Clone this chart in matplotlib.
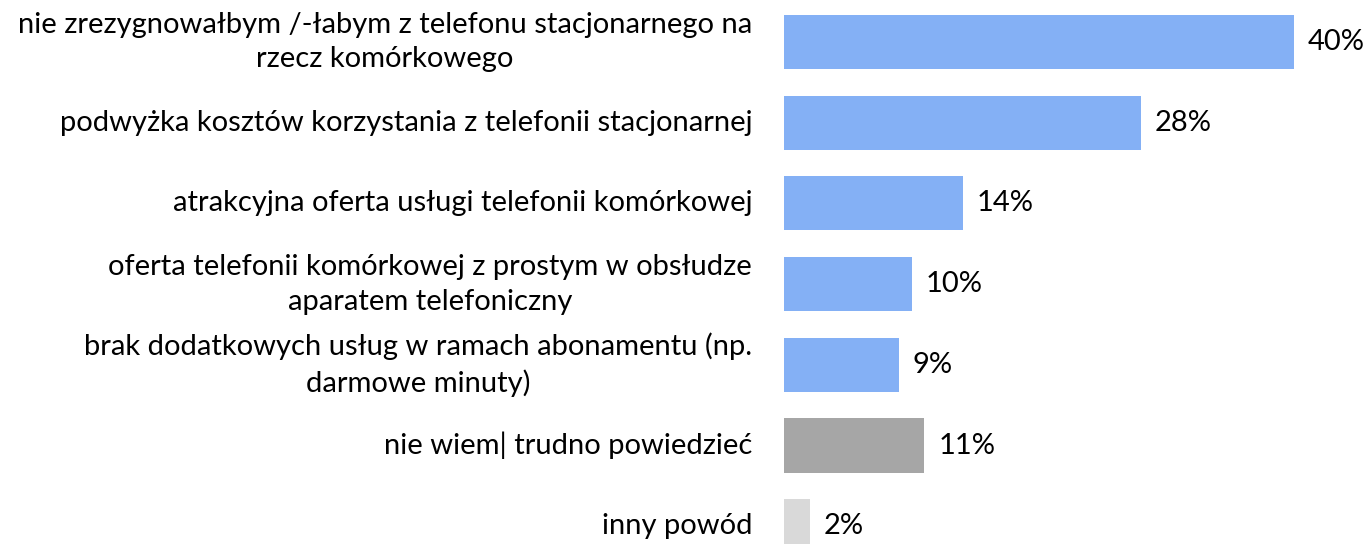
import matplotlib
matplotlib.use('Agg')
import matplotlib.pyplot as plt

# data
labels = [
    'nie zrezygnowałbym /-łabym z telefonu stacjonarnego na\nrzecz komórkowego',
    'podwyżka kosztów korzystania z telefonii stacjonarnej',
    'atrakcyjna oferta usługi telefonii komórkowej',
    'oferta telefonii komórkowej z prostym w obsłudze\naparatem telefoniczny',
    'brak dodatkowych usług w ramach abonamentu (np.\ndarmowe minuty)',
    'nie wiem| trudno powiedzieć',
    'inny powód',
]
values = [40, 28, 14, 10, 9, 11, 2]
colors = ['#84B0F5'] * 5 + ['#A6A6A6', '#D9D9D9']

plt.rcParams['font.family'] = ['Lato', 'DejaVu Sans']
fs = 21

fig = plt.figure(figsize=(13.67, 5.44), dpi=100)
ax = fig.add_axes([784 / 1367, 0, 1 - 784 / 1367, 1])

pos = list(range(len(values)))
ax.barh(pos, values, height=0.67, color=colors)
ax.set_xlim(0, 583 / 12.75)
ax.set_ylim(6.22, -0.52)

for p, v in zip(pos, values):
    ax.annotate(f'{v}%', (v, p), xytext=(10, 0), textcoords='offset points',
                ha='left', va='center', fontsize=fs, color='#000000')

for p, lab in zip(pos, labels):
    ax.annotate(lab, (0, p), xytext=(-23, 0), textcoords='offset points',
                ha='right', va='center', multialignment='center',
                fontsize=fs, color='#000000', linespacing=1.42,
                annotation_clip=False)

ax.axis('off')
fig.savefig('out.png', dpi=100)
